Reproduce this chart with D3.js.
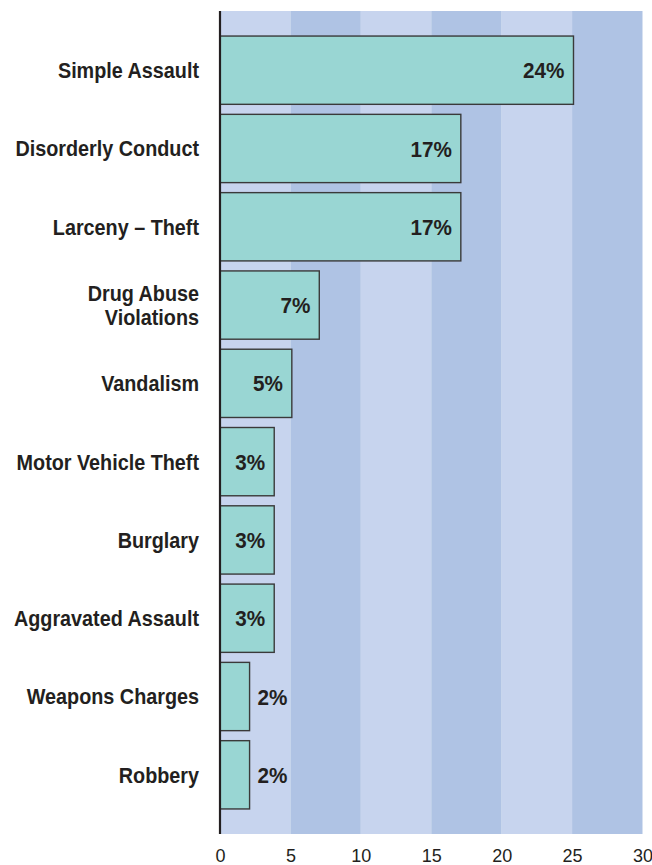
<!DOCTYPE html>
<html>
<head>
<meta charset="utf-8">
<script src="https://cdn.jsdelivr.net/npm/d3@7"></script>
<style>
  html, body { margin: 0; padding: 0; background: #fff; }
  svg { display: block; }
  .cond { font-family: "Liberation Sans", Arial, Helvetica, sans-serif; }
</style>
</head>
<body>
<div id="chart"></div>
<script>
const categories = ["Simple Assault", "Disorderly Conduct", "Larceny – Theft", "Drug Abuse|Violations", "Vandalism", "Motor Vehicle Theft", "Burglary", "Aggravated Assault", "Weapons Charges", "Robbery"];
const values = [25.1, 17.1, 17.1, 7.05, 5.1, 3.85, 3.85, 3.85, 2.1, 2.1];
const valueLabels = ["24%", "17%", "17%", "7%", "5%", "3%", "3%", "3%", "2%", "2%"];
const xTicks = [0, 5, 10, 15, 20, 25, 30];
const bandStarts = [0, 5, 10, 15, 20, 25];

const W = 652, H = 865;
const m = { left: 220, right: 9.5, top: 11, bottom: 31 };

const svg = d3.select("#chart").append("svg").attr("width", W).attr("height", H);

const x = d3.scaleLinear().domain([0, 30]).range([m.left, W - m.right]);
const y = d3.scaleBand().domain(categories).range([m.top, H - m.bottom]).paddingInner(0.128).paddingOuter(0.32);

// background bands
svg.append("g").selectAll("rect").data(bandStarts).join("rect")
  .attr("x", d => x(d)).attr("y", m.top)
  .attr("width", d => x(d + 5) - x(d)).attr("height", H - m.bottom - m.top)
  .attr("fill", (d, i) => i % 2 === 0 ? "#c7d4ee" : "#afc3e4");

// bars
svg.append("g").selectAll("rect").data(categories).join("rect")
  .attr("x", x(0)).attr("y", d => y(d))
  .attr("width", (d, i) => x(values[i]) - x(0)).attr("height", y.bandwidth())
  .attr("fill", "#99d6d3").attr("stroke", "#3a3a3a").attr("stroke-width", 1.4);

// value labels
const vg = svg.append("g").selectAll("g").data(categories).join("g")
  .attr("transform", (d, i) => {
    const w = x(values[i]) - x(0);
    const px = w > 45 ? x(values[i]) - 9 : x(values[i]) + 8;
    return `translate(${px},${y(d) + y.bandwidth() / 2}) scale(0.92,1)`;
  });
vg.append("text")
  .attr("class", "cond")
  .attr("text-anchor", (d, i) => (x(values[i]) - x(0)) > 45 ? "end" : "start")
  .attr("dy", "0.36em")
  .attr("font-size", 22.5).attr("font-weight", "bold").attr("fill", "#231f20")
  .text((d, i) => valueLabels[i]);

// category labels (slightly condensed)
const lg = svg.append("g").selectAll("g").data(categories).join("g")
  .attr("transform", d => `translate(199,${y(d) + y.bandwidth() / 2}) scale(0.9,1)`);
lg.append("text")
  .attr("class", "cond")
  .attr("text-anchor", "end")
  .attr("font-size", 22).attr("font-weight", "bold").attr("fill", "#231f20")
  .each(function(d) {
    const lines = d.split("|");
    const t = d3.select(this);
    const lh = 24;
    lines.forEach((ln, k) => {
      t.append("tspan").attr("x", 0)
        .attr("y", (k - (lines.length - 1) / 2) * lh)
        .attr("dy", "0.36em").text(ln);
    });
  });

// y axis line
svg.append("line").attr("x1", x(0)).attr("x2", x(0)).attr("y1", m.top).attr("y2", H - m.bottom)
  .attr("stroke", "#231f20").attr("stroke-width", 2.2);

// x axis tick labels
const xAxis = d3.axisBottom(x).tickValues(xTicks).tickSize(0).tickPadding(15).tickFormat(d3.format("d"));
const gx = svg.append("g").attr("transform", `translate(0,${H - m.bottom})`).call(xAxis);
gx.select(".domain").remove();
gx.selectAll("text").attr("class", "cond").attr("font-size", 18).attr("fill", "#231f20");
</script>
</body>
</html>
